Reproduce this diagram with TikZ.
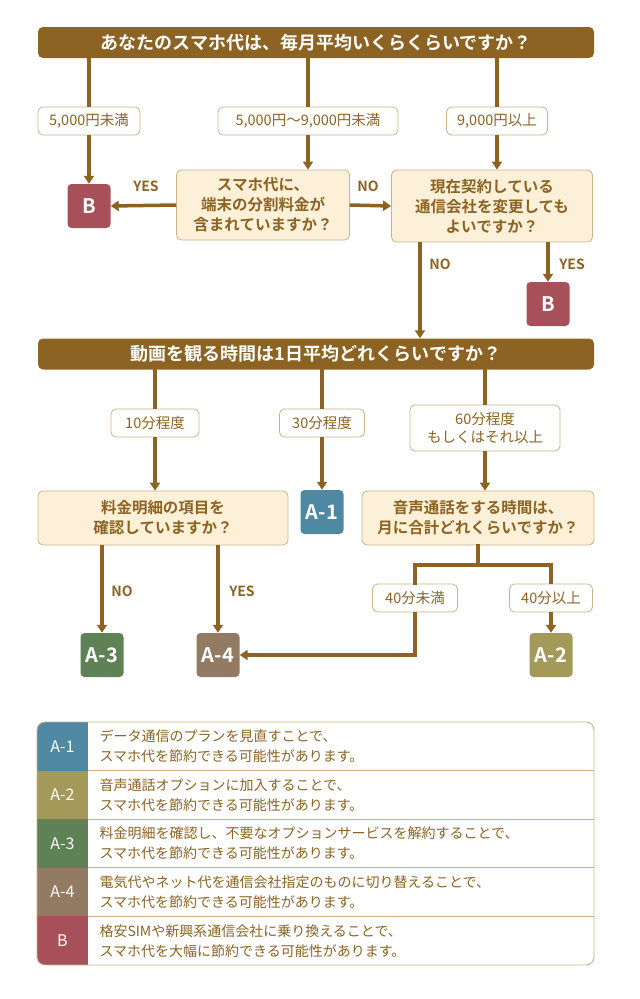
\documentclass[tikz,border=0pt]{standalone}
\usepackage{fontspec}
\setmainfont{Noto Sans CJK JP}[BoldFont={Noto Sans CJK JP Bold}]
\usetikzlibrary{arrows.meta,positioning}
\definecolor{brn}{HTML}{8C6323}
\definecolor{cream}{HTML}{FCF1D8}
\definecolor{bord}{HTML}{C9B48A}
\definecolor{cB}{HTML}{A8505A}
\definecolor{cA1}{HTML}{4E88A2}
\definecolor{cA2}{HTML}{A39A5A}
\definecolor{cA3}{HTML}{5E8156}
\definecolor{cA4}{HTML}{927A63}
\tikzset{
 bar/.style={fill=brn,rounded corners=5pt,minimum width=556pt,minimum height=31pt,text=white,font=\bfseries\fontsize{18}{20}\selectfont},
 qbox/.style={fill=cream,draw=bord,line width=0.8pt,rounded corners=5pt,align=center,text=brn,font=\bfseries\fontsize{15.5}{20}\selectfont,inner sep=0pt},
 lbl/.style={fill=white,draw=bord,line width=0.8pt,rounded corners=5pt,align=center,text=brn,font=\fontsize{14.5}{18}\selectfont,inner sep=0pt,minimum height=28pt},
 res/.style={rounded corners=4pt,text=white,font=\bfseries\fontsize{20}{20}\selectfont,minimum width=43pt,minimum height=44pt,inner sep=0pt},
 yn/.style={text=brn,font=\bfseries\fontsize{14}{15}\selectfont},
 ln/.style={draw=brn,line width=3.5pt},
 ar/.style={draw=brn,line width=3.5pt,-{Triangle[length=8pt,width=10pt]}},
 leg/.style={anchor=west,align=left,text=brn,font=\fontsize{14}{20}\selectfont},
 legk/.style={text=white,font=\fontsize{16}{16}\selectfont},
}
\begin{document}
\begin{tikzpicture}[x=1pt,y=-1pt]
\useasboundingbox[fill=white] (0,0) rectangle (640,999);
% question 1
\node[bar] (q1) at (316,42.5) {あなたのスマホ代は、毎月平均いくらくらいですか？};
\node[lbl,minimum width=102pt] (l1) at (89,121) {5,000円未満};
\node[lbl,minimum width=180pt] (l2) at (308,121) {5,000円〜9,000円未満};
\node[lbl,minimum width=101pt] (l3) at (497,121) {9,000円以上};
\node[res,fill=cB] (b1) at (89,206) {B};
\node[qbox,minimum width=173pt,minimum height=70pt] (m1) at (263,205) {スマホ代に、\\端末の分割料金が\\含まれていますか？};
\node[qbox,minimum width=201pt,minimum height=72pt] (m2) at (492,206) {現在契約している\\通信会社を変更しても\\よいですか？};
\node[res,fill=cB] (b2) at (548,304) {B};
\coordinate (t1) at (89,58); \coordinate (t2) at (308,58); \coordinate (t3) at (497,58);
\draw[ln] (t1) -- (l1.north); \draw[ar] (l1.south) -- (b1.north);
\draw[ln] (t2) -- (l2.north); \draw[ar] (l2.south) -- (m1.north-|l2.south);
\draw[ln] (t3) -- (l3.north); \draw[ar] (l3.south) -- (m2.north-|l3.south);
\draw[ar] (m1.west) -- (b1.east);
\draw[ar] (m1.east) -- (m2.west);
\node[yn] (y1) at (146,186) {YES};
\node[yn] (n1) at (368,186) {NO};
% question 2
\node[bar] (q2) at (316,354) {動画を観る時間は1日平均どれくらいですか？};
\coordinate (s1) at (420,242);
\draw[ar] (s1) -- (s1|-q2.north);
\coordinate (s2) at (548,242);
\draw[ar] (s2) -- (b2.north);
\node[yn] (n2) at (440,264) {NO};
\node[yn] (y2) at (572,264) {YES};
\node[lbl,minimum width=88pt] (k1) at (155,423) {10分程度};
\node[lbl,minimum width=85pt] (k2) at (322,423) {30分程度};
\node[lbl,minimum width=150pt,minimum height=46pt] (k3) at (485,428) {60分程度\\もしくはそれ以上};
\node[qbox,minimum width=250pt,minimum height=54pt] (p1) at (163,518) {料金明細の項目を\\確認していますか？};
\node[res,fill=cA1] (a1) at (322,512) {A-1};
\node[qbox,minimum width=232pt,minimum height=54pt] (p2) at (478,518) {音声通話をする時間は、\\月に合計どれくらいですか？};
\coordinate (u1) at (155,369); \coordinate (u2) at (322,369); \coordinate (u3) at (485,369);
\draw[ln] (u1) -- (k1.north); \draw[ar] (k1.south) -- (k1.south|-p1.north);
\draw[ln] (u2) -- (k2.north); \draw[ar] (k2.south) -- (a1.north);
\draw[ln] (u3) -- (k3.north); \draw[ar] (k3.south) -- (k3.south|-p2.north);
\node[res,fill=cA3] (a3) at (102,655) {A-3};
\node[res,fill=cA4] (a4) at (218,655) {A-4};
\node[res,fill=cA2] (a2) at (551,655) {A-2};
\coordinate (v1) at (102,545); \coordinate (v2) at (218,545);
\draw[ar] (v1) -- (a3.north);
\draw[ar] (v2) -- (a4.north);
\node[yn] (n3) at (122,591) {NO};
\node[yn] (y3) at (242,591) {YES};
\node[lbl,minimum width=85pt] (r1) at (415,598) {40分未満};
\node[lbl,minimum width=83pt] (r2) at (551,598) {40分以上};
\coordinate (j) at (478,565);
\draw[ln,line cap=rect] (p2.south) -- (j) -| (r1.north);
\draw[ln] (j) -| (r2.north);
\draw[ar] (r1.south) |- (a4.east);
\draw[ar] (r2.south) -- (a2.north);
% legend
\begin{scope}
\clip[rounded corners=8pt] (37,722) rectangle (594,965);
\fill[cA1] (37,722) rectangle (88,770.6);
\fill[cA2] (37,770.6) rectangle (88,819.2);
\fill[cA3] (37,819.2) rectangle (88,867.8);
\fill[cA4] (37,867.8) rectangle (88,916.4);
\fill[cB] (37,916.4) rectangle (88,965);
\foreach \yy in {770.6,819.2,867.8,916.4} \draw[bord,line width=0.8pt] (88,\yy) -- (594,\yy);
\end{scope}
\draw[bord,line width=0.9pt,rounded corners=8pt] (37,722) rectangle (594,965);
\node[legk] (e1) at (62.5,746.3) {A-1};
\node[legk] (e2) at (62.5,794.9) {A-2};
\node[legk] (e3) at (62.5,843.5) {A-3};
\node[legk] (e4) at (62.5,892.1) {A-4};
\node[legk] (e5) at (62.5,940.7) {B};
\node[leg] (d1) at (96,746.3) {データ通信のプランを見直すことで、\\スマホ代を節約できる可能性があります。};
\node[leg] (d2) at (96,794.9) {音声通話オプションに加入することで、\\スマホ代を節約できる可能性があります。};
\node[leg] (d3) at (96,843.5) {料金明細を確認し、不要なオプションサービスを解約することで、\\スマホ代を節約できる可能性があります。};
\node[leg] (d4) at (96,892.1) {電気代やネット代を通信会社指定のものに切り替えることで、\\スマホ代を節約できる可能性があります。};
\node[leg] (d5) at (96,940.7) {格安SIMや新興系通信会社に乗り換えることで、\\スマホ代を大幅に節約できる可能性があります。};
\end{tikzpicture}
\end{document}
